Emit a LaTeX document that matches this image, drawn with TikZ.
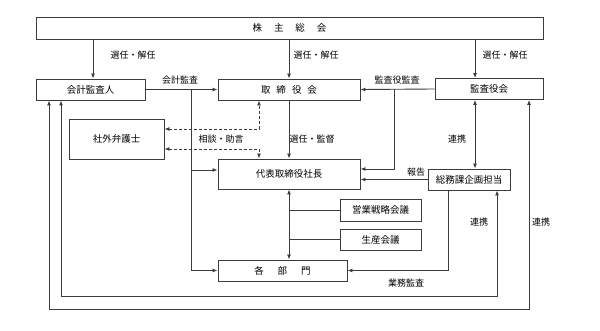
\documentclass[tikz,border=0pt]{standalone}
\usepackage{fontspec}
\setmainfont{Noto Sans CJK JP}
\usetikzlibrary{arrows.meta}
\definecolor{ln}{RGB}{60,60,60}
\tikzset{
  box/.style={draw=ln, line width=0.9pt, fill=white, inner sep=0pt, font=\fontsize{9.5}{11}\selectfont},
  lbl/.style={font=\fontsize{9}{11}\selectfont, inner sep=0pt},
  con/.style={draw=ln, line width=0.9pt},
  arr/.style={con, -{Latex[length=5pt,width=4pt]}},
  darr/.style={con, {Latex[length=5pt,width=4pt]}-{Latex[length=5pt,width=4pt]}},
  dsh/.style={darr, dash pattern=on 3pt off 2pt}
}
\begin{document}
\begin{tikzpicture}[x=1pt,y=-1pt]
\useasboundingbox (0,0) rectangle (600,331);
% boxes
\node[box, minimum width=507pt, minimum height=22pt] (sh) at (289.5,28) {株\hspace{12pt}主\hspace{12pt}総\hspace{12pt}会};
\node[box, minimum width=109pt, minimum height=21pt] (kaikei) at (90.5,89.5) {会計監査人};
\node[box, minimum width=142pt, minimum height=21pt] (tori) at (289,89.5) {取\hspace{6pt}締\hspace{6pt}役\hspace{6pt}会};
\node[box, minimum width=108pt, minimum height=21pt] (kansa) at (489,89) {監査役会};
\node[box, minimum width=95pt, minimum height=40pt] (bengo) at (116.5,139) {社外弁護士};
\node[box, minimum width=142pt, minimum height=30pt] (daihyo) at (289,174) {代表取締役社長};
\node[box, minimum width=82pt, minimum height=21pt] (somu) at (469,179.5) {総務課企画担当};
\node[box, minimum width=81pt, minimum height=22pt] (eigyo) at (380.5,210) {営業戦略会議};
\node[box, minimum width=81pt, minimum height=21pt] (seisan) at (380.5,239.5) {生産会議};
\node[box, minimum width=129pt, minimum height=21pt] (kakubu) at (282.5,270.5) {各\hspace{14pt}部\hspace{14pt}門};
% helper coordinates
\coordinate (xk1) at (93,0);
\coordinate (xk3) at (475,0);
\coordinate (xa) at (191,0);
\coordinate (xb) at (394,0);
\coordinate (xc) at (259,0);
\coordinate (xd) at (448,0);
\coordinate (xe) at (49,0);
\coordinate (xf) at (529,0);
\coordinate (xg) at (61,0);
\coordinate (xh) at (497,0);
\coordinate (ob) at (0,309);
\coordinate (ib) at (0,296);
% top arrows
\draw[arr] (sh.south -| xk1) -- (kaikei.north -| xk1);
\draw[arr] (sh.south -| tori.north) -- (tori.north);
\draw[arr] (sh.south -| xk3) -- (kansa.north -| xk3);
% audit lines
\draw[arr] (kaikei.east) -- (tori.west);
\draw[arr] (xa |- kaikei.east) |- (kakubu.west);
\draw[arr] (xa |- daihyo.west) ++(0,-4) -- ([yshift=4pt]daihyo.west);
\draw[arr] (kansa.west) -- (tori.east);
\draw[arr] (xb |- kansa.west) |- ([yshift=5pt]daihyo.east);
% dashed consultation
\draw[dsh] ([yshift=10pt]bengo.east) -| (tori.south -| xc);
\draw[dsh] ([yshift=-10pt]bengo.east) -| (daihyo.north -| xc);
% board to president
\draw[arr] (tori.south) -- (daihyo.north);
% president to departments
\draw[darr] (daihyo.south) -- (daihyo.south |- kakubu.north);
\draw[con] (daihyo.south |- eigyo.west) -- (eigyo.west);
\draw[con] (daihyo.south |- seisan.west) -- (seisan.west);
% general affairs
\draw[darr] (kansa.south -| xk3) -- (somu.north -| xk3);
\draw[arr] (somu.west) -- (somu.west -| daihyo.east);
\draw[arr] (somu.south -| xd) |- (kakubu.east);
% loops
\draw[darr] (kaikei.south -| xe) -- (xe |- ob) -- (xf |- ob) -- (kansa.south -| xf);
\draw[darr] (kaikei.south -| xg) -- (xg |- ib) -- (xh |- ib) -- (somu.south -| xh);
% labels
\node[lbl] (l1) at (133,55) {選任・解任};
\node[lbl] (l2) at (316,55) {選任・解任};
\node[lbl] (l3) at (505,55) {選任・解任};
\node[lbl] (l4) at (180,80) {会計監査};
\node[lbl] (l5) at (397,80) {監査役監査};
\node[lbl] (l6) at (221,139) {相談・助言};
\node[lbl] (l7) at (312,139) {選任・監督};
\node[lbl] (l8) at (457,139) {連携};
\node[lbl] (l9) at (416,172) {報告};
\node[lbl] (l10) at (479,222) {連携};
\node[lbl] (l11) at (541,222) {連携};
\node[lbl] (l12) at (406,283) {業務監査};
\end{tikzpicture}
\end{document}
